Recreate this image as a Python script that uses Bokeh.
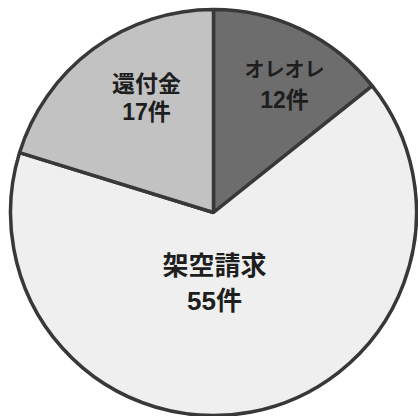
import math
from bokeh.plotting import figure
from bokeh.models import Range1d, ColumnDataSource
from bokeh.core.properties import value
from bokeh.embed import file_html
from bokeh.resources import INLINE

categories = ["オレオレ", "架空請求", "還付金"]
counts = [12, 55, 17]
count_labels = ["12件", "55件", "17件"]
colors = ["#6d6d6d", "#efefef", "#c2c2c2"]

total = sum(counts)
starts, ends = [], []
cum = 0
for c in counts:
    starts.append(math.pi / 2 - 2 * math.pi * cum / total)
    cum += c
    ends.append(math.pi / 2 - 2 * math.pi * cum / total)

src = ColumnDataSource(dict(start=starts, end=ends, color=colors,
                            cat=categories, cnt=count_labels))

p = figure(width=418, height=416, output_backend="svg", toolbar_location=None,
           x_range=Range1d(-213, 205), y_range=Range1d(-204, 212),
           min_border=0, outline_line_color=None)
p.axis.visible = False
p.grid.visible = False
p.background_fill_color = "white"
p.border_fill_color = "white"

R = 203
p.wedge(x=0, y=0, radius=R, start_angle="start", end_angle="end",
        direction="clock", fill_color="color", line_color="#383838",
        line_width=3.5, source=src)

# label placement (pixel offsets from centre)
lab_x = [71, 1, -67]
lab_y = [143, -53, 129]
line_gap = [30, 35, 28]
name_sizes = ["20px", "26px", "23px"]
count_sizes = ["23px", "26px", "23px"]
FONT = value("Liberation Sans, Noto Sans CJK JP")

for i in range(len(categories)):
    p.text(x=[lab_x[i]], y=[lab_y[i]], text=[categories[i]],
           text_font=FONT, text_font_style="bold",
           text_font_size=name_sizes[i], text_align="center", text_baseline="middle",
           text_color="#1e1e1e")
    p.text(x=[lab_x[i]], y=[lab_y[i] - line_gap[i]], text=[count_labels[i]],
           text_font=FONT, text_font_style="bold",
           text_font_size=count_sizes[i], text_align="center", text_baseline="middle",
           text_color="#1e1e1e")

open("out.html", "w").write(file_html(p, INLINE))
